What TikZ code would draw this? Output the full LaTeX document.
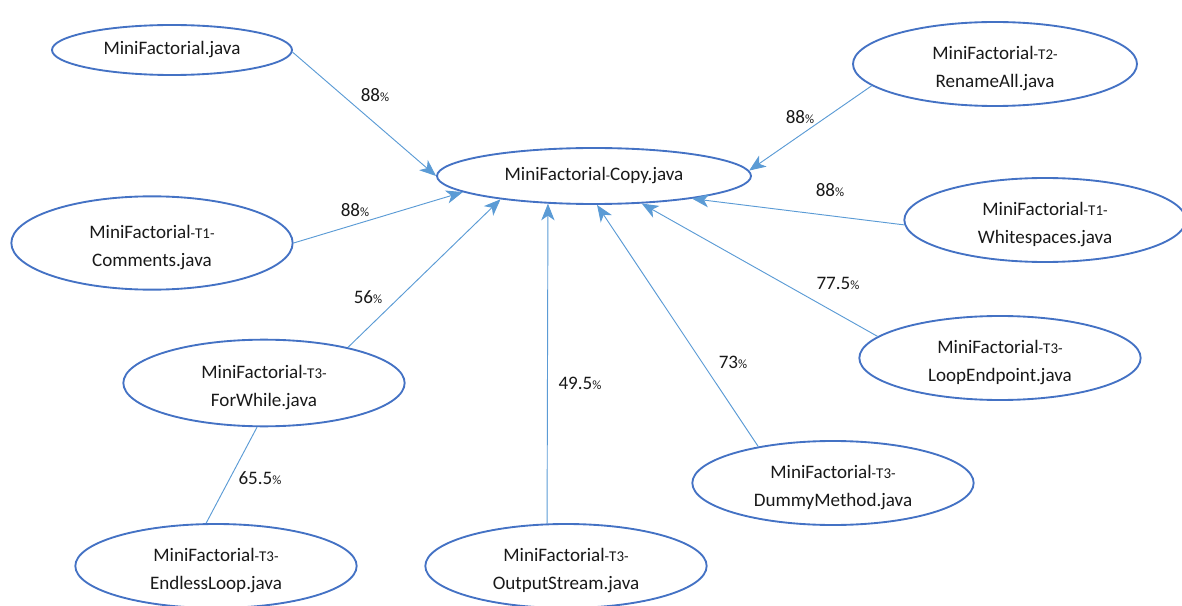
\documentclass[tikz,border=0pt]{standalone}
\usepackage{fontspec}
\setmainfont{Carlito}
\usetikzlibrary{shapes.geometric,arrows.meta}
\definecolor{ebord}{HTML}{4472C4}
\definecolor{conn}{HTML}{5B9BD5}
\newcommand{\sh}{{\fontsize{10.5}{10.5}\selectfont -}}
\newcommand{\sm}[1]{{\fontsize{11.2}{11.2}\selectfont #1}}
\newcommand{\pc}{{\fontsize{9.5}{9.5}\selectfont \%}}
\newcommand{\two}[2]{\raisebox{-3pt}[\height][\depth]{\begin{tabular}{@{}c@{}}#1\\#2\end{tabular}}}
\begin{document}
\begin{tikzpicture}[x=0.75pt,y=-0.75pt,
  filenode/.style={draw=ebord,line width=1.4pt,ellipse,inner sep=0pt,align=center,
    font=\fontsize{14.3}{20.5}\selectfont,text=black!90},
  conline/.style={draw=conn,line width=0.7pt},
  arr/.style={conline,-{Stealth[length=12.5pt,width=10pt,inset=3.5pt]}},
  pct/.style={font=\fontsize{14.3}{16}\selectfont,text=black!90,inner sep=0pt}]
\useasboundingbox (0,0) rectangle (1182,606);
\node[filenode,minimum width=180pt,minimum height=37.5pt] (mf) at (172,50) {MiniFactorial.java};
\node[filenode,minimum width=235.5pt,minimum height=42pt] (copy) at (594,176) {MiniFactorial\sh Copy.java};
\node[filenode,minimum width=213pt,minimum height=63pt] (ren) at (995,64) {\two{MiniFactorial\sm{-T2-}}{RenameAll.java}};
\node[filenode,minimum width=211pt,minimum height=70pt] (com) at (152,243) {\two{MiniFactorial\sm{-T1-}}{Comments.java}};
\node[filenode,minimum width=211pt,minimum height=63pt] (ws) at (1045,220) {\two{MiniFactorial\sm{-T1-}}{Whitespaces.java}};
\node[filenode,minimum width=211pt,minimum height=63pt] (le) at (1000,358) {\two{MiniFactorial\sm{-T3-}}{LoopEndpoint.java}};
\node[filenode,minimum width=211pt,minimum height=65pt] (fw) at (264,383) {\two{MiniFactorial\sm{-T3-}}{ForWhile.java}};
\node[filenode,minimum width=211pt,minimum height=63pt] (dm) at (833,483) {\two{MiniFactorial\sm{-T3-}}{DummyMethod.java}};
\node[filenode,minimum width=211pt,minimum height=63pt] (el) at (216,566) {\two{MiniFactorial\sm{-T3-}}{EndlessLoop.java}};
\node[filenode,minimum width=211pt,minimum height=63pt] (os) at (566,566) {\two{MiniFactorial\sm{-T3-}}{OutputStream.java}};

\draw[arr] (mf.-1) -- (copy.180);
\draw[arr] (ren.190) -- (copy.2);
\draw[arr] (com.0) -- (copy.187);
\draw[arr] (ws.182) -- (copy.-13);
\draw[arr] (le.170) -- (copy.-30);
\draw[arr] (fw.23) -- (copy.194);
\draw[arr] (os.114) -- (copy.211);
\draw[arr] (dm.154) -- (copy.-84);
\draw[conline] (fw.-99) -- (el.103);

\node[pct] (l1) at (375,95) {88\pc};
\node[pct] (l2) at (800,117) {88\pc};
\node[pct] (l3) at (355,210) {88\pc};
\node[pct] (l4) at (830,190) {88\pc};
\node[pct] (l5) at (838,283) {77.5\pc};
\node[pct] (l6) at (368,297) {56\pc};
\node[pct] (l7) at (580,383) {49.5\pc};
\node[pct] (l8) at (733,362) {73\pc};
\node[pct] (l9) at (260,478) {65.5\pc};
\end{tikzpicture}
\end{document}
